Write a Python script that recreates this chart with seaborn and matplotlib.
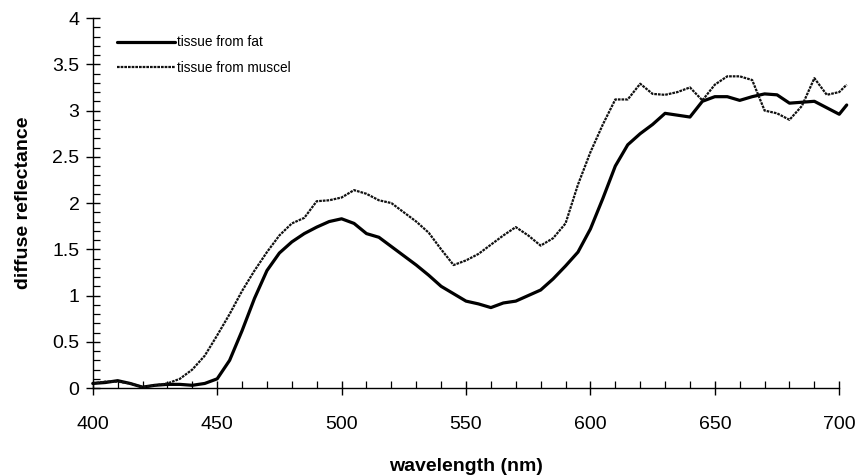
import matplotlib
matplotlib.use("Agg")
import matplotlib.pyplot as plt
from matplotlib.ticker import MultipleLocator, FuncFormatter
import numpy as np
import pandas as pd
import seaborn as sns

wavelength = [400, 405, 410, 415, 420, 425, 430, 435, 440, 445, 450, 455, 460, 465,
              470, 475, 480, 485, 490, 495, 500, 505, 510, 515, 520, 525, 530, 535,
              540, 545, 550, 555, 560, 565, 570, 575, 580, 585, 590, 595, 600, 605,
              610, 615, 620, 625, 630, 635, 640, 645, 650, 655, 660, 665, 670, 675,
              680, 685, 690, 695, 700, 703]

fat = [0.05, 0.06, 0.08, 0.05, 0.01, 0.03, 0.04, 0.04, 0.03, 0.05, 0.10, 0.30, 0.62, 0.97,
       1.27, 1.46, 1.58, 1.67, 1.74, 1.80, 1.83, 1.78, 1.67, 1.63, 1.53, 1.43, 1.33, 1.22,
       1.10, 1.02, 0.94, 0.91, 0.87, 0.92, 0.94, 1.00, 1.06, 1.18, 1.32, 1.47, 1.72, 2.05,
       2.40, 2.63, 2.75, 2.85, 2.97, 2.95, 2.93, 3.10, 3.15, 3.15, 3.11, 3.15, 3.18, 3.17,
       3.08, 3.09, 3.10, 3.03, 2.96, 3.06]

muscle = [0.05, 0.07, 0.07, 0.05, 0.01, 0.03, 0.05, 0.10, 0.20, 0.35, 0.57, 0.80, 1.05, 1.27,
          1.47, 1.65, 1.78, 1.84, 2.02, 2.03, 2.06, 2.14, 2.10, 2.03, 2.00, 1.90, 1.80, 1.68,
          1.50, 1.33, 1.38, 1.45, 1.55, 1.65, 1.74, 1.65, 1.54, 1.62, 1.78, 2.20, 2.55, 2.85,
          3.12, 3.12, 3.29, 3.18, 3.17, 3.20, 3.25, 3.11, 3.28, 3.37, 3.37, 3.33, 3.00, 2.97,
          2.90, 3.05, 3.35, 3.17, 3.20, 3.28]

series_names = ["tissue from fat", "tissue from muscel"]

df = pd.DataFrame({
    "wavelength": wavelength * 2,
    "reflectance": fat + muscle,
    "tissue": [series_names[0]] * len(fat) + [series_names[1]] * len(muscle),
})

sns.set_theme(style="ticks")
plt.rcParams["font.family"] = ["Liberation Sans", "DejaVu Sans"]
plt.rcParams["text.color"] = "black"
plt.rcParams["axes.labelcolor"] = "black"

fig = plt.figure(figsize=(8.59, 4.75), dpi=100)
ax = fig.add_axes([0.108, 0.183, 0.869, 0.779])

sns.lineplot(data=df[df.tissue == series_names[0]], x="wavelength", y="reflectance",
             color="black", linewidth=2.3, ax=ax, label=series_names[0], clip_on=False)
sns.lineplot(data=df[df.tissue == series_names[1]], x="wavelength", y="reflectance",
             color="#111111", linewidth=1.6, linestyle=(0, (1.2, 0.45)), ax=ax,
             label=series_names[1], clip_on=False)

ax.set_xlim(400, 700)
ax.set_ylim(0, 4)
ax.xaxis.set_major_locator(MultipleLocator(50))
ax.xaxis.set_minor_locator(MultipleLocator(10))
ax.yaxis.set_major_locator(MultipleLocator(0.5))
ax.yaxis.set_minor_locator(MultipleLocator(0.1))
ax.yaxis.set_major_formatter(FuncFormatter(lambda v, pos: f"{v:g}"))

ax.tick_params(which="major", direction="inout", length=10, width=1.0,
               labelsize=14, colors="black", labelcolor="black")
ax.tick_params(axis="x", which="major", pad=15)
ax.tick_params(axis="y", which="major", pad=4.5)
ax.tick_params(which="minor", direction="in", length=5, width=0.9, colors="black")

for side in ["top", "right"]:
    ax.spines[side].set_visible(False)
for side in ["left", "bottom"]:
    ax.spines[side].set_color("black")
    ax.spines[side].set_linewidth(1.0)

ax.set_xlabel("wavelength (nm)", fontsize=14, fontweight="bold", labelpad=18,
              color="black")
ax.set_ylabel("diffuse reflectance", fontsize=14, fontweight="bold", labelpad=15,
              color="black")

leg = ax.legend(loc="upper left", bbox_to_anchor=(0.025, 0.968), frameon=False,
                fontsize=9.8, handlelength=4.3, handletextpad=0.1, labelspacing=0.85,
                borderaxespad=0)
for t in leg.get_texts():
    t.set_color("black")

fig.savefig("out.png", dpi=100)
